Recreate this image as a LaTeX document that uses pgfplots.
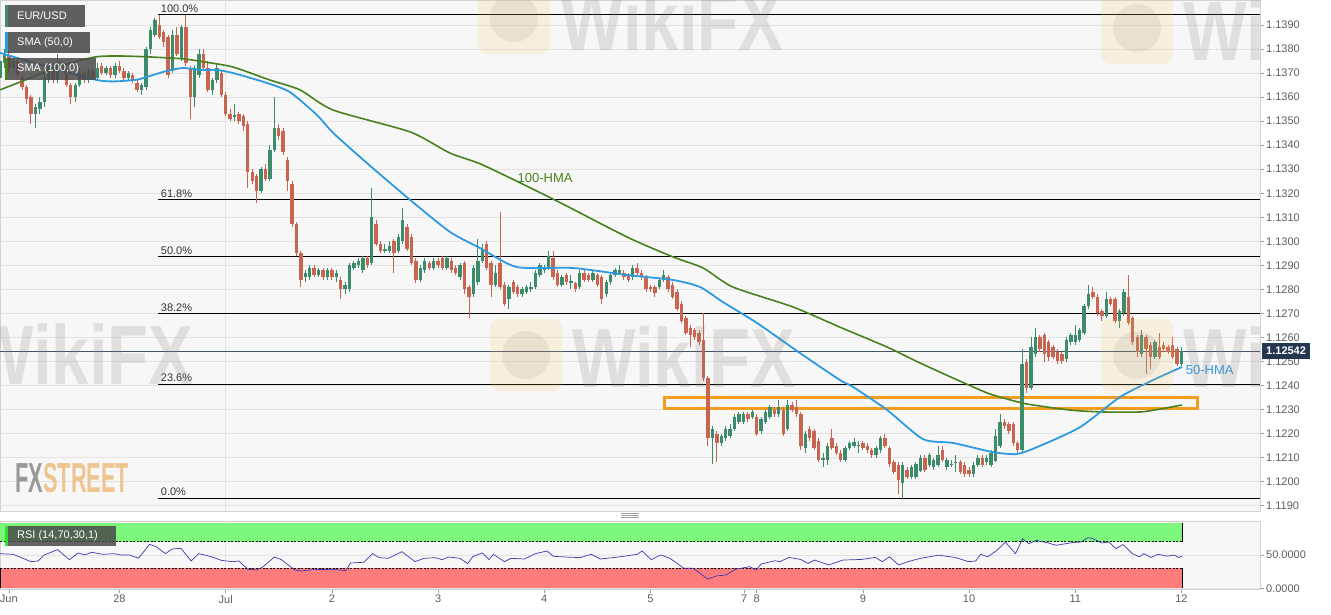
\documentclass[border=0pt]{standalone}
\usepackage{fontspec}
\setmainfont{Liberation Sans}
\usepackage{pgfplots}
\usepackage{pgfplotstable}
\pgfplotsset{compat=1.18}

\definecolor{upc}{HTML}{3C8B6B}
\definecolor{dnc}{HTML}{C8644F}
\definecolor{hmagreen}{HTML}{4A801E}
\definecolor{hmablue}{HTML}{2E9AE0}
\definecolor{bgc}{HTML}{F7F7F7}
\definecolor{gridc}{HTML}{E3E3E3}
\definecolor{axc}{HTML}{D2D2D2}
\definecolor{tickc}{HTML}{5C5C5C}
\definecolor{boxc}{HTML}{4A4A4A}
\definecolor{zonec}{HTML}{F39C1F}
\definecolor{pricec}{HTML}{25364F}
\definecolor{rsigreen}{HTML}{7DF87D}
\definecolor{rsired}{HTML}{FE7C7C}
\definecolor{rsiline}{HTML}{3B3BAE}
\definecolor{rsistrip}{HTML}{2FE02F}
\definecolor{fxgray}{HTML}{8E8E8E}
\definecolor{fxorange}{HTML}{EEC087}
\definecolor{wmgray}{HTML}{8A7C7C}
\definecolor{wmyellow}{HTML}{F2C65A}

\tikzset{lbl/.style={font=\fontsize{11}{13}\selectfont}}
\pgfplotsset{
  candle/.style 2 args={only marks, mark=none, mark size=0pt,
    mark options={draw opacity=0, fill opacity=0}, forget plot,
    error bars/.cd, y dir=both, y explicit, error mark=none,
    error bar style={draw=#1, line width=#2}},
}

% faint watermark: logo square + word
\newcommand{\wikiwm}[1]{%
  \begin{scope}[shift={#1}]
    \fill[wmyellow, opacity=0.16, rounded corners=9pt] (-82,-36) rectangle (-10,36);
    \fill[wmgray, opacity=0.13] (-46,0) circle (24);
    \node[anchor=west, inner sep=0, text=wmgray, text opacity=0.2] at (0,-2)
      {\scalebox{0.8}[1]{\fontsize{84}{84}\selectfont\bfseries WikiFX}};
  \end{scope}}

% hourly candles: hour, open, high, low, close
\pgfplotstableread{
h o hi lo c
0 1.1368 1.1377 1.1366 1.1375
1 1.1374 1.1380 1.1372 1.1378
2 1.1377 1.1379 1.1370 1.1372
3 1.1372 1.1377 1.1371 1.1375
4 1.1375 1.1376 1.1368 1.1369
5 1.1368 1.1369 1.1363 1.1364
6 1.1364 1.1365 1.1357 1.1359
7 1.1360 1.1361 1.1349 1.1353
8 1.1353 1.1357 1.1347 1.1356
9 1.1355 1.1360 1.1353 1.1358
10 1.1358 1.1370 1.1356 1.1368
11 1.1367 1.1374 1.1366 1.1372
12 1.1372 1.1374 1.1366 1.1367
13 1.1367 1.1378 1.1366 1.1374
14 1.1374 1.1375 1.1370 1.1371
15 1.1371 1.1372 1.1364 1.1365
16 1.1365 1.1366 1.1357 1.1360
17 1.1360 1.1366 1.1358 1.1365
18 1.1365 1.1372 1.1364 1.1370
19 1.1370 1.1371 1.1366 1.1367
20 1.1367 1.1372 1.1366 1.1371
21 1.1371 1.1372 1.1367 1.1368
22 1.1368 1.1374 1.1367 1.1372
23 1.1373 1.1374 1.1369 1.1370
24 1.1370 1.1373 1.1369 1.1372
25 1.1372 1.1373 1.1368 1.1369
26 1.1369 1.1374 1.1368 1.1373
27 1.1373 1.1375 1.1370 1.1371
28 1.1371 1.1372 1.1367 1.1368
29 1.1368 1.1371 1.1367 1.1370
30 1.1369 1.1370 1.1366 1.1367
31 1.1366 1.1367 1.1362 1.1363
32 1.1363 1.1366 1.1361 1.1365
33 1.1364 1.1381 1.1363 1.1380
34 1.1380 1.1389 1.1378 1.1388
35 1.1386 1.1393 1.1385 1.1392
36 1.1390 1.13942 1.1384 1.1385
37 1.1387 1.1388 1.1381 1.1383
38 1.1385 1.1386 1.1368 1.1369
39 1.1371 1.1388 1.1370 1.1386
40 1.1386 1.1389 1.1377 1.1378
41 1.1376 1.1390 1.1375 1.1389
42 1.1389 1.1394 1.1373 1.1374
43 1.1372 1.1373 1.1351 1.1360
44 1.1360 1.1373 1.1356 1.1372
45 1.1369 1.1380 1.1368 1.1378
46 1.1378 1.1380 1.1371 1.1372
47 1.1372 1.1375 1.1362 1.1363
48 1.1363 1.1368 1.1361 1.1367
49 1.1367 1.1374 1.1366 1.1372
50 1.1370 1.1371 1.1360 1.1361
51 1.1361 1.1362 1.1352 1.1353
52 1.1353 1.1355 1.1350 1.1351
53 1.1352 1.1357 1.1350 1.13525
54 1.1353 1.1354 1.1349 1.1350
55 1.1352 1.1353 1.1346 1.1348
56 1.1349 1.1350 1.1322 1.1329
57 1.1329 1.1330 1.1324 1.1325
58 1.1327 1.1328 1.1316 1.1321
59 1.1321 1.1331 1.1320 1.1330
60 1.1330 1.1332 1.1325 1.1326
61 1.1326 1.1340 1.1325 1.1338
62 1.1338 1.1360 1.1337 1.1347
63 1.1347 1.1349 1.1342 1.1344
64 1.1346 1.1347 1.1336 1.1337
65 1.1334 1.1335 1.1321 1.1325
66 1.1324 1.1325 1.1306 1.1307
67 1.1307 1.1308 1.1294 1.1295
68 1.1295 1.1296 1.1281 1.1284
69 1.1285 1.1288 1.1283 1.1287
70 1.1285 1.1290 1.1284 1.1289
71 1.1289 1.1290 1.1285 1.1286
72 1.1286 1.1289 1.1285 1.1288
73 1.1288 1.1289 1.1284 1.1285
74 1.1285 1.1289 1.1284 1.1288
75 1.1288 1.1289 1.1284 1.1285
76 1.1285 1.1288 1.1283 1.1287
77 1.1284 1.1285 1.1276 1.1280
78 1.1280 1.1283 1.1278 1.1282
79 1.1280 1.1291 1.1279 1.1290
80 1.1289 1.1292 1.1288 1.1291
81 1.1290 1.1293 1.1289 1.1292
82 1.1288 1.1294 1.1287 1.1293
83 1.1293 1.1294 1.1289 1.1290
84 1.1291 1.1322 1.1290 1.1310
85 1.1307 1.1309 1.1298 1.1299
86 1.1299 1.1300 1.1295 1.1296
87 1.1296 1.1299 1.1295 1.1297
88 1.1296 1.1300 1.1295 1.1298
89 1.1300 1.1301 1.1287 1.1295
90 1.1296 1.1303 1.1295 1.1302
91 1.1300 1.1314 1.1299 1.1309
92 1.1306 1.1307 1.1296 1.1297
93 1.1302 1.1303 1.1290 1.1291
94 1.1292 1.1293 1.12825 1.1284
95 1.1284 1.1290 1.1283 1.1289
96 1.1288 1.1293 1.1287 1.1292
97 1.1291 1.1292 1.1288 1.1289
98 1.1289 1.1293 1.1288 1.1292
99 1.1292 1.1293 1.1289 1.1290
100 1.1293 1.1294 1.1288 1.1289
101 1.1289 1.1294 1.1288 1.1293
102 1.1292 1.1293 1.1287 1.1288
103 1.1289 1.1290 1.1286 1.1287
104 1.1285 1.1291 1.1284 1.1290
105 1.1291 1.1292 1.1278 1.1280
106 1.1281 1.1282 1.1268 1.1277
107 1.1278 1.1290 1.1277 1.1289
108 1.1283 1.1301 1.1282 1.1292
109 1.1292 1.1299 1.1291 1.1297
110 1.1299 1.1300 1.1288 1.1289
111 1.1291 1.1292 1.1277 1.1282
112 1.1282 1.1290 1.1281 1.1287
113 1.1291 1.1312 1.1280 1.1281
114 1.1282 1.1283 1.1273 1.1274
115 1.1276 1.1282 1.1272 1.1281
116 1.1283 1.1284 1.1278 1.1279
117 1.1281 1.1282 1.1277 1.1278
118 1.1278 1.1281 1.1277 1.1280
119 1.1279 1.1282 1.1278 1.1281
120 1.1280 1.1283 1.1279 1.1281
121 1.1281 1.1288 1.1280 1.1287
122 1.1286 1.1291 1.1285 1.1290
123 1.1288 1.1290 1.1287 1.1289
124 1.1289 1.1296 1.1288 1.1294
125 1.1293 1.1296 1.1284 1.1285
126 1.1287 1.1288 1.1281 1.1282
127 1.1282 1.1286 1.1281 1.1285
128 1.1286 1.1287 1.1282 1.1283
129 1.1283 1.1286 1.1280 1.12833
130 1.12825 1.1283 1.1279 1.1280
131 1.1281 1.1288 1.1280 1.1287
132 1.1287 1.1288 1.1283 1.1284
133 1.1286 1.1287 1.1283 1.1284
134 1.1284 1.1288 1.1283 1.1287
135 1.1286 1.1287 1.1281 1.1282
136 1.1285 1.1286 1.1274 1.1276
137 1.1278 1.1284 1.1277 1.1283
138 1.1283 1.1287 1.1282 1.1286
139 1.1286 1.1289 1.1285 1.1288
140 1.1287 1.1290 1.1286 1.1288
141 1.1287 1.1288 1.1284 1.1285
142 1.1286 1.1287 1.1283 1.1284
143 1.1285 1.1290 1.1284 1.1289
144 1.1289 1.1291 1.1286 1.1287
145 1.1287 1.1288 1.1284 1.1285
146 1.1285 1.1286 1.1279 1.1280
147 1.1281 1.1282 1.1279 1.1280
148 1.1281 1.1282 1.1277 1.12785
149 1.1281 1.1285 1.1280 1.1284
150 1.1284 1.1288 1.1283 1.1286
151 1.1285 1.1286 1.1279 1.1280
152 1.1282 1.1283 1.1276 1.1277
153 1.1279 1.1280 1.1271 1.1272
154 1.1274 1.1275 1.1266 1.1267
155 1.1268 1.1269 1.1261 1.1262
156 1.1264 1.1265 1.1256 1.1261
157 1.1263 1.1264 1.1259 1.1260
158 1.1262 1.1263 1.1257 1.1258
159 1.1259 1.1270 1.1242 1.1243
160 1.1243 1.1244 1.1215 1.1218
161 1.1218 1.1223 1.12075 1.1222
162 1.1220 1.1221 1.1208 1.1216
163 1.1216 1.1220 1.1215 1.1219
164 1.1218 1.1223 1.1217 1.1222
165 1.1219 1.1224 1.1218 1.1222
166 1.1222 1.1228 1.1221 1.1227
167 1.1225 1.1229 1.1224 1.1228
168 1.1225 1.1229 1.1224 1.1228
169 1.1228 1.1229 1.1225 1.1226
170 1.1227 1.1230 1.1226 1.1229
171 1.1227 1.1228 1.1219 1.1220
172 1.1221 1.1227 1.1220 1.1226
173 1.1225 1.1230 1.1224 1.1229
174 1.1227 1.1232 1.1226 1.1231
175 1.1230 1.1231 1.1227 1.1228
176 1.1228 1.1234 1.1227 1.1231
177 1.1230 1.1231 1.1219 1.1220
178 1.1222 1.1234 1.1221 1.1232
179 1.1232 1.1233 1.1229 1.1230
180 1.1231 1.1234 1.1227 1.1228
181 1.1228 1.1229 1.1213 1.1215
182 1.1214 1.1221 1.1212 1.1220
183 1.1222 1.1223 1.1217 1.1218
184 1.1221 1.1222 1.1213 1.1214
185 1.1217 1.1218 1.1208 1.1209
186 1.1209 1.1212 1.1206 1.1210
187 1.1209 1.1216 1.1207 1.1215
188 1.1218 1.1222 1.1213 1.1214
189 1.1215 1.1216 1.1211 1.1212
190 1.1212 1.1213 1.1208 1.1209
191 1.1209 1.1215 1.1208 1.1214
192 1.1214 1.1217 1.1213 1.1216
193 1.1215 1.1218 1.1214 1.12165
194 1.1215 1.1217 1.1212 1.12153
195 1.1216 1.1217 1.1213 1.1214
196 1.1215 1.1216 1.1212 1.1213
197 1.1213 1.1214 1.1210 1.1211
198 1.1211 1.1215 1.1210 1.1214
199 1.1213 1.1219 1.1212 1.1218
200 1.1218 1.1220 1.1214 1.1215
201 1.1214 1.1215 1.1206 1.12075
202 1.1208 1.1209 1.1203 1.1204
203 1.1207 1.1208 1.1195 1.12005
204 1.11995 1.1208 1.1193 1.1207
205 1.1205 1.1206 1.1201 1.1202
206 1.1202 1.1207 1.1201 1.1206
207 1.1202 1.1208 1.1201 1.12075
208 1.12045 1.1211 1.1204 1.1210
209 1.1210 1.1211 1.1204 1.1205
210 1.1207 1.1212 1.1206 1.1211
211 1.1206 1.1210 1.1205 1.1209
212 1.1207 1.1215 1.1206 1.1211
213 1.1213 1.1215 1.1208 1.1209
214 1.1206 1.1210 1.1205 1.1209
215 1.1207 1.1209 1.1206 1.12075
216 1.1208 1.1211 1.1204 1.12083
217 1.1208 1.1209 1.1203 1.1204
218 1.1207 1.1208 1.1202 1.1203
219 1.1205 1.1206 1.1202 1.1203
220 1.1203 1.1208 1.1202 1.1207
221 1.1207 1.1211 1.1206 1.1210
222 1.1210 1.1211 1.1206 1.1207
223 1.1208 1.1211 1.1207 1.1210
224 1.1207 1.1213 1.1206 1.1212
225 1.12085 1.1222 1.1208 1.1219
226 1.1215 1.1228 1.1214 1.1225
227 1.1225 1.1226 1.1222 1.1223
228 1.1224 1.1225 1.1220 1.1221
229 1.1224 1.1225 1.1215 1.1216
230 1.1216 1.1217 1.1212 1.1213
231 1.1213 1.1255 1.1212 1.1249
232 1.1250 1.1251 1.1237 1.1239
233 1.1239 1.1260 1.1238 1.1256
234 1.1253 1.1264 1.1252 1.1260
235 1.1260 1.1261 1.1254 1.1255
236 1.1261 1.1262 1.1250 1.1253
237 1.1258 1.1259 1.1250 1.1252
238 1.1256 1.1257 1.1251 1.1252
239 1.1254 1.1255 1.1249 1.1250
240 1.1253 1.1254 1.1249 1.1250
241 1.1251 1.1260 1.1250 1.1259
242 1.1258 1.1262 1.1257 1.1261
243 1.1258 1.1265 1.1257 1.1261
244 1.1259 1.1264 1.1258 1.1263
245 1.1262 1.1274 1.1261 1.1273
246 1.1273 1.1282 1.1272 1.1278
247 1.1279 1.1281 1.1276 1.1277
248 1.1277 1.1278 1.1269 1.1270
249 1.1271 1.1272 1.1267 1.1269
250 1.1269 1.1279 1.1268 1.1276
251 1.1276 1.1277 1.1273 1.1274
252 1.1276 1.1277 1.1266 1.1267
253 1.1267 1.1272 1.1264 1.1271
254 1.1270 1.1280 1.1269 1.1279
255 1.1277 1.1286 1.1265 1.1266
256 1.1268 1.1269 1.1257 1.1258
257 1.1260 1.1261 1.1252 1.1254
258 1.1253 1.1263 1.1252 1.1261
259 1.1260 1.1261 1.1245 1.1255
260 1.1257 1.1258 1.1247 1.1252
261 1.1252 1.1259 1.1251 1.1258
262 1.1256 1.1262 1.1251 1.1252
263 1.1257 1.1258 1.1254 1.1255
264 1.1256 1.1257 1.1253 1.1254
265 1.1257 1.1260 1.1251 1.1252
266 1.1255 1.1256 1.1248 1.1249
267 1.1249 1.1256 1.1248 1.12542
}\candles

\begin{document}
\begin{tikzpicture}[x=1pt,y=1pt]
\useasboundingbox (0,0) rectangle (1331,-615);

% ---------- price panel ----------
\begin{axis}[
  at={(0pt,0pt)}, anchor=north west,
  scale only axis, width=1260pt, height=511pt,
  xmin=0, xmax=284.75, ymin=1.11878, ymax=1.14004,
  axis background/.style={fill=bgc},
  axis line style={draw=axc, line width=0.8pt},
  xtick=\empty,
  extra x ticks={51}, extra x tick labels={},
  extra x tick style={grid=major, major tick length=0pt},
  ytick={1.119,1.120,1.121,1.122,1.123,1.124,1.125,1.126,1.127,1.128,1.129,1.130,1.131,1.132,1.133,1.134,1.135,1.136,1.137,1.138,1.139},
  yticklabels={1.1190,1.1200,1.1210,1.1220,1.1230,1.1240,1.1250,1.1260,1.1270,1.1280,1.1290,1.1300,1.1310,1.1320,1.1330,1.1340,1.1350,1.1360,1.1370,1.1380,1.1390},
  ymajorgrids, grid style={draw=gridc, line width=0.7pt},
  ytick pos=right, yticklabel pos=right, ytick align=outside,
  major tick length=4pt, tick style={draw=tickc!60, line width=0.6pt},
  yticklabel style={lbl, text=tickc, inner sep=2pt},
]
% fibonacci levels
\addplot[black, line width=0.9pt, forget plot] coordinates {(35.8,1.13942) (284.75,1.13942)};
\addplot[black, line width=0.9pt, forget plot] coordinates {(35.8,1.13174) (284.75,1.13174)};
\addplot[black, line width=0.9pt, forget plot] coordinates {(35.8,1.12937) (284.75,1.12937)};
\addplot[black, line width=0.9pt, forget plot] coordinates {(35.8,1.12700) (284.75,1.12700)};
\addplot[black, line width=0.9pt, forget plot] coordinates {(35.8,1.12406) (284.75,1.12406)};
\addplot[black, line width=0.9pt, forget plot] coordinates {(35.8,1.11932) (284.75,1.11932)};
% last price
\addplot[pricec!85, line width=0.7pt, forget plot] coordinates {(0,1.12542) (284.75,1.12542)};
% support zone
\addplot[zonec, line width=2.8pt, line join=miter, forget plot] coordinates {(150.2,1.12304) (270.6,1.12304) (270.6,1.12351) (150.2,1.12351)} -- cycle;
% candles
\addplot[candle={upc}{1pt}] table[x=h, y expr={\thisrow{c}>=\thisrow{o} ? 0.5*(\thisrow{hi}+\thisrow{lo}) : nan}, y error expr={0.5*(\thisrow{hi}-\thisrow{lo})}] {\candles};
\addplot[candle={dnc}{1pt}] table[x=h, y expr={\thisrow{c}<\thisrow{o} ? 0.5*(\thisrow{hi}+\thisrow{lo}) : nan}, y error expr={0.5*(\thisrow{hi}-\thisrow{lo})}] {\candles};
\addplot[candle={upc}{3.4pt}] table[x=h, y expr={\thisrow{c}>=\thisrow{o} ? 0.5*(\thisrow{o}+\thisrow{c}) : nan}, y error expr={0.5*abs(\thisrow{c}-\thisrow{o})}] {\candles};
\addplot[candle={dnc}{3.4pt}] table[x=h, y expr={\thisrow{c}<\thisrow{o} ? 0.5*(\thisrow{o}+\thisrow{c}) : nan}, y error expr={0.5*abs(\thisrow{c}-\thisrow{o})}] {\candles};
% 100-HMA
\addplot[hmagreen, line width=1.6pt, smooth, tension=0.4] coordinates {
(0,1.13630) (6.8,1.13679) (13.6,1.13729) (21.5,1.13767) (27.1,1.13771) (33.9,1.13767)
(41.4,1.13759) (46.3,1.13746) (52.7,1.13725) (61.0,1.13671) (67.8,1.13630) (75.3,1.13546)
(92.7,1.13455) (101.7,1.13367) (109.2,1.13317) (125.4,1.13172) (141.7,1.13018) (152.1,1.12935)
(158.9,1.12889) (165.6,1.12810) (179.2,1.12727) (189.8,1.12643) (200.5,1.12560) (207.9,1.12494)
(215.4,1.12431) (223.1,1.12369) (227.6,1.12344) (232.1,1.12323) (241.8,1.12298) (249.3,1.12290)
(257.6,1.12290) (262.1,1.12302) (267.1,1.12319)};
% 50-HMA
\addplot[hmablue, line width=1.8pt, smooth, tension=0.4] coordinates {
(0,1.13784) (21.9,1.13671) (30.1,1.13671) (32.3,1.13679) (37.7,1.13709) (41.4,1.13721)
(45.2,1.13713) (49.0,1.13713) (52.7,1.13700) (60.3,1.13659) (65.5,1.13621) (71.6,1.13526)
(75.3,1.13451) (82.9,1.13326) (92.7,1.13172) (101.7,1.13039) (108.5,1.12972) (116.8,1.12893)
(129.5,1.12889) (141.7,1.12860) (152.1,1.12839) (158.2,1.12810) (163.4,1.12747) (171.1,1.12660)
(180.8,1.12535) (189.8,1.12423) (192.8,1.12394) (200.5,1.12298) (208.6,1.12177) (215.4,1.12161)
(224.4,1.12123) (229.8,1.12115) (234.4,1.12144) (244.1,1.12227) (253.1,1.12352) (260.6,1.12423)
(267.1,1.12477)};
% labels
\node[lbl, text=black!80, anchor=south west, inner sep=1pt, yshift=1pt] at (axis cs:36.1,1.13942) {100.0\%};
\node[lbl, text=black!80, anchor=south west, inner sep=1pt, yshift=1pt] at (axis cs:36.1,1.13174) {61.8\%};
\node[lbl, text=black!80, anchor=south west, inner sep=1pt, yshift=1pt] at (axis cs:36.1,1.12937) {50.0\%};
\node[lbl, text=black!80, anchor=south west, inner sep=1pt, yshift=1pt] at (axis cs:36.1,1.12700) {38.2\%};
\node[lbl, text=black!80, anchor=south west, inner sep=1pt, yshift=1pt] at (axis cs:36.1,1.12406) {23.6\%};
\node[lbl, text=black!80, anchor=south west, inner sep=1pt, yshift=1pt] at (axis cs:36.1,1.11932) {0.0\%};
\node[text=hmagreen, font=\fontsize{13}{15}\selectfont] at (axis cs:123.2,1.13263) {100-HMA};
\node[text=hmablue, font=\fontsize{13}{15}\selectfont] at (axis cs:273.4,1.12464) {50-HMA};
\end{axis}

% ---------- RSI panel ----------
\begin{axis}[
  at={(0pt,-521pt)}, anchor=north west,
  scale only axis, width=1260pt, height=68pt,
  xmin=0, xmax=284.75, ymin=-1.05, ymax=101,
  axis background/.style={fill=bgc},
  axis line style={draw=axc, line width=0.8pt},
  xtick={2,27,51,75,99,123,147,168.2,171,195,219,243,267},
  xticklabels={Jun,28,Jul,2,3,4,5,7,8,9,10,11,12},
  xtick pos=bottom, xtick align=outside,
  extra x ticks={51}, extra x tick labels={},
  extra x tick style={grid=major, major tick length=0pt},
  ytick={0,50}, yticklabels={0.0000,50.0000},
  ytick pos=right, yticklabel pos=right, ytick align=outside,
  ymajorgrids, grid style={draw=gridc, line width=0.7pt},
  major tick length=4pt, tick style={draw=tickc!60, line width=0.6pt},
  ticklabel style={lbl, text=tickc, inner sep=2pt},
]
\addplot[draw=none, fill=rsigreen, forget plot] coordinates {(0,70) (267.3,70) (267.3,98.2) (0,98.2)} -- cycle;
\addplot[draw=none, fill=rsired, forget plot] coordinates {(0,0) (267.3,0) (267.3,30) (0,30)} -- cycle;
\addplot[black, line width=0.9pt, forget plot] coordinates {(267.3,70) (267.3,98.2)};
\addplot[black, line width=0.9pt, forget plot] coordinates {(267.3,0) (267.3,30)};
\addplot[black, line width=1.6pt, forget plot] coordinates {(0,0) (0,30)};
\addplot[black, line width=0.6pt, dash pattern=on 2pt off 1.5pt, forget plot] coordinates {(0,70) (267.3,70)};
\addplot[black, line width=0.6pt, dash pattern=on 2pt off 1.5pt, forget plot] coordinates {(0,30) (267.3,30)};
\addplot[rsiline, line width=0.7pt] coordinates {
(0,52) (3,51) (7,40) (8.6,41) (10,50) (13,58) (15.7,43) (17.7,53) (19.2,50) (20.7,54)
(23.3,51) (25.8,52) (27.3,50) (29.3,50) (31.3,45) (33.8,66) (35.4,62) (37.4,52) (38.9,59)
(40.9,60) (43.2,41) (44.9,52) (47.5,48) (50,42) (52.5,40) (54,41) (56,28.5) (58,27.5)
(59.5,32.5) (62,47) (63.6,43) (66.6,27.5) (68.1,26) (70.6,28) (75.2,28.5) (78.2,26.5)
(79.2,38) (82.2,39) (84.2,52) (85.7,46) (87.8,45) (90.8,55) (93.8,40) (95.8,45) (98.4,46)
(99.9,43) (101.4,47) (103.9,45) (105.7,37) (106.9,48) (109,53) (110.5,43) (111.5,51)
(114,40) (115.5,45) (118.5,44) (121,52) (123.6,56) (125.1,48) (127.6,47) (131.1,46)
(133.6,51) (135.7,44) (139.8,47) (144,51) (145.1,56) (147.2,43) (149.3,50) (151.4,45)
(154.6,30) (156.7,30) (159.9,14) (162,18.6) (164.1,20) (166.2,28.5) (169.4,32.5)
(170.9,27.5) (172,36.4) (175.2,41.4) (176.2,40) (178.3,46.3) (181,43.3) (182.6,37.4)
(184.1,42.4) (187.3,35) (190.5,42.4) (194.7,43.3) (197.8,46.3) (199.4,40) (201,47.3)
(203.1,35) (205.2,40) (207.9,44.8) (212.1,49.8) (215.8,46.3) (218.9,40) (220.5,41)
(221.6,51) (223.2,47.3) (225.3,57) (227.2,69.5) (229.5,52) (231.1,74.5) (232.5,67)
(234.2,72) (236.9,68) (238.7,64.6) (242.2,68.5) (244.3,69.5) (245.9,76) (247,74.5)
(249,68) (250.6,69.5) (252.2,59.6) (253.8,65.6) (255.9,52) (257.5,47.3) (258.5,52)
(260.1,46.3) (261.7,51) (263.8,48.3) (265.4,49.8) (266.4,46.3) (267.1,48.3)};
\end{axis}

% ---------- watermarks ----------
\begin{scope}
\clip (0,0) rectangle (1260,-511);
\wikiwm{(572,-355)}
\wikiwm{(-30,-352)}
\wikiwm{(560,-18)}
\wikiwm{(1183,-28)}
\wikiwm{(1183,-355)}
\end{scope}

% ---------- overlays ----------
\fill[boxc, opacity=0.88] (5,-5) rectangle (85,-27);
\fill[upc] (5,-5) rectangle (7.5,-27);
\node[lbl, anchor=west, text=white, inner sep=0] at (17,-16) {EUR/USD};
\fill[boxc, opacity=0.88] (5,-32) rectangle (90,-53);
\fill[hmablue] (5,-32) rectangle (7.5,-53);
\node[lbl, anchor=west, text=white, inner sep=0] at (17,-42.5) {SMA (50,0)};
\fill[boxc, opacity=0.85] (5,-58) rectangle (96,-80);
\fill[hmagreen] (5,-58) rectangle (7.5,-80);
\node[lbl, anchor=west, text=white, inner sep=0] at (17,-69) {SMA (100,0)};

\fill[boxc, opacity=0.85] (5,-526) rectangle (116,-546);
\fill[rsistrip] (5,-526) rectangle (8,-546);
\node[lbl, anchor=west, text=white, inner sep=0] at (17,-536) {RSI (14,70,30,1)};

\node[fill=pricec, text=white, font=\bfseries\fontsize{11}{13}\selectfont, anchor=west,
  inner xsep=4pt, inner ysep=0pt, minimum height=16pt] at (1262,-351) {1.12542};

\draw[gray!75, line width=0.6pt] (621,-513.5) -- (639,-513.5) (621,-515.5) -- (639,-515.5) (621,-517.5) -- (639,-517.5);

\node[anchor=south west, inner sep=0, opacity=0.9] at (15,-493)
  {\scalebox{0.52}[1]{\fontsize{42}{42}\selectfont\bfseries\textcolor{fxgray}{FX}\textcolor{fxorange}{STREET}}};
\end{tikzpicture}
\end{document}
